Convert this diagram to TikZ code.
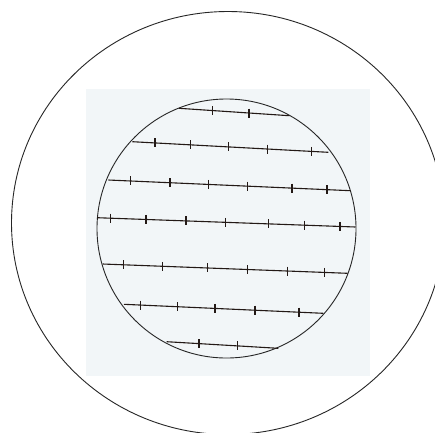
\documentclass[tikz,border=0pt]{standalone}
\usepackage{tikz}
\definecolor{bgpanel}{RGB}{242,246,248}
\definecolor{inkc}{RGB}{35,25,22}
\tikzset{
  ln/.style={draw=inkc, line width=1.1pt},
  tk/.style={draw=inkc, line width=1.3pt},
  rim/.style={draw=black!85, line width=0.9pt},
}
\newcommand\tickline[5]{%
  \draw[ln] (#1,#2) -- (#3,#4);
  \foreach \t in {#5} {%
    \pgfmathsetmacro\ty{#2+(#4-#2)*(\t-#1)/(#3-#1)}%
    \draw[tk] (\t,\ty-4.5) -- (\t,\ty+4.5);
  }%
}
\begin{document}
\begin{tikzpicture}[x=1pt,y=-1pt]
\useasboundingbox (0,0) rectangle (435,432);
\clip (0,0) rectangle (435,432);
\fill[white] (0,0) rectangle (435,432);
\draw[rim] (228,223) ellipse[x radius=216.5, y radius=211.5];
\fill[bgpanel] (86,89) rectangle (370,376);
\draw[rim] (226.5,228.5) circle[radius=129.5];
\tickline{179}{108.3}{289.3}{115.7}{212.7,249}
\tickline{132.3}{141.7}{328.3}{152.3}{155,190.7,228.7,267.3,311.7}
\tickline{108.3}{180}{350.7}{190.7}{130.7,170,208.3,247.3,292,327}
\tickline{97}{217.7}{355.5}{227}{110.7,146,186,225.7,268.3,304.3,340}
\tickline{102.7}{264}{347.7}{273.3}{123.3,162.7,207.3,247.7,287.3,324.7}
\tickline{124}{304.3}{323.3}{313.3}{140.7,177.3,215,255,299}
\tickline{166.7}{341.7}{278.3}{348.3}{199,237.3}
\end{tikzpicture}
\end{document}
